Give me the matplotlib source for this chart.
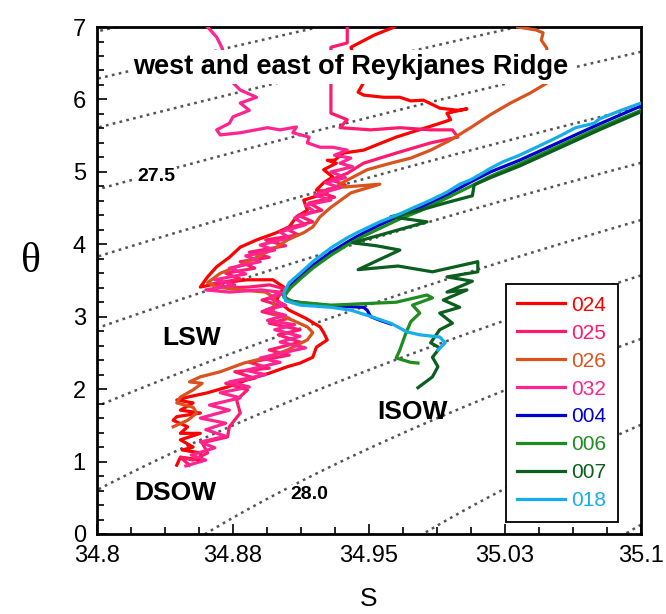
import numpy as np
import matplotlib
matplotlib.use("Agg")
import matplotlib.pyplot as plt
from matplotlib.ticker import MultipleLocator

plt.rcParams['font.family'] = ['Liberation Sans', 'DejaVu Sans']

# salinity / potential temperature profiles
s_024 = [34.964, 34.953, 34.940, 34.947, 34.944, 34.947, 34.958, 34.967, 34.973, 34.980,
         34.989, 34.999, 35.004, 34.993, 34.995, 34.989, 34.965, 34.947, 34.936, 34.931,
         34.927, 34.932, 34.925, 34.930, 34.925, 34.921, 34.927, 34.914, 34.916, 34.910,
         34.906, 34.899, 34.888, 34.879, 34.873, 34.866, 34.861, 34.857, 34.869, 34.883,
         34.897, 34.903, 34.899, 34.906, 34.915, 34.923, 34.925, 34.927, 34.921, 34.919,
         34.912, 34.905, 34.895, 34.883, 34.872, 34.861, 34.850, 34.844, 34.853, 34.846,
         34.857, 34.844, 34.842, 34.850, 34.846, 34.857, 34.846, 34.853, 34.847, 34.857,
         34.858, 34.846, 34.844]
t_024 = [7.00, 6.89, 6.72, 6.23, 6.10, 6.06, 6.03, 6.03, 5.98, 5.99,
         5.88, 5.85, 5.87, 5.81, 5.72, 5.67, 5.48, 5.30, 5.26, 5.16,
         5.16, 5.12, 5.03, 4.93, 4.85, 4.75, 4.71, 4.61, 4.47, 4.38,
         4.24, 4.16, 4.06, 3.96, 3.82, 3.69, 3.55, 3.41, 3.47, 3.51,
         3.51, 3.41, 3.23, 3.09, 2.98, 2.86, 2.78, 2.68, 2.58, 2.44,
         2.36, 2.31, 2.22, 2.13, 2.03, 1.95, 1.89, 1.85, 1.81, 1.71,
         1.67, 1.62, 1.57, 1.48, 1.39, 1.39, 1.30, 1.20, 1.16, 1.12,
         1.02, 1.06, 0.95]

s_025 = [34.938, 34.938, 34.929, 34.929, 34.938, 34.934, 34.951, 34.967, 34.984, 34.996,
         34.999, 34.984, 34.965, 34.947, 34.938, 34.929, 34.937, 34.922, 34.931, 34.917,
         34.924, 34.911, 34.919, 34.904, 34.911, 34.893, 34.904, 34.884, 34.895, 34.879,
         34.887, 34.871, 34.879, 34.863, 34.873, 34.884, 34.895, 34.906, 34.900, 34.891,
         34.900, 34.891, 34.906, 34.895, 34.912, 34.900, 34.912, 34.895, 34.906, 34.884,
         34.895, 34.876, 34.887, 34.871, 34.883, 34.877, 34.879, 34.873, 34.872, 34.858,
         34.861, 34.853, 34.846, 34.851]
t_025 = [7.00, 6.78, 6.72, 5.81, 5.72, 5.61, 5.58, 5.61, 5.58, 5.58,
         5.48, 5.40, 5.26, 5.12, 4.98, 4.89, 4.82, 4.72, 4.65, 4.57,
         4.47, 4.40, 4.31, 4.22, 4.13, 4.06, 3.98, 3.89, 3.82, 3.76,
         3.67, 3.60, 3.52, 3.45, 3.40, 3.41, 3.44, 3.37, 3.29, 3.23,
         3.16, 3.07, 2.98, 2.91, 2.82, 2.75, 2.65, 2.54, 2.47, 2.37,
         2.29, 2.24, 2.15, 2.08, 1.99, 1.85, 1.67, 1.48, 1.34, 1.26,
         1.12, 1.02, 1.06, 0.95]

s_026 = [35.032, 35.042, 35.046, 35.045, 35.048, 35.049, 35.039, 35.028, 35.017, 35.006,
         34.995, 34.984, 34.973, 34.962, 34.949, 34.936, 34.931, 34.956, 34.940, 34.929,
         34.923, 34.919, 34.914, 34.905, 34.899, 34.888, 34.879, 34.868, 34.861, 34.866,
         34.879, 34.893, 34.898, 34.897, 34.908, 34.916, 34.919, 34.916, 34.905, 34.894,
         34.881, 34.868, 34.857, 34.851, 34.858, 34.853, 34.846, 34.844, 34.853, 34.855,
         34.850, 34.842]
t_026 = [7.00, 6.96, 6.92, 6.82, 6.71, 6.24, 6.09, 5.95, 5.79, 5.61,
         5.44, 5.30, 5.19, 5.12, 5.03, 4.86, 4.78, 4.83, 4.71, 4.51,
         4.38, 4.24, 4.16, 4.06, 3.96, 3.82, 3.71, 3.60, 3.47, 3.41,
         3.37, 3.34, 3.26, 3.05, 2.95, 2.86, 2.78, 2.68, 2.54, 2.44,
         2.36, 2.24, 2.17, 2.10, 2.08, 1.99, 1.89, 1.81, 1.75, 1.67,
         1.57, 1.48]

s_032 = [34.861, 34.866, 34.869, 34.875, 34.879, 34.888, 34.879, 34.884, 34.875, 34.873,
         34.866, 34.868, 34.879, 34.894, 34.901, 34.910, 34.908, 34.917, 34.916, 34.923,
         34.930, 34.938, 34.931, 34.940, 34.934, 34.941, 34.929, 34.937, 34.926, 34.934,
         34.920, 34.929, 34.915, 34.920, 34.909, 34.915, 34.901, 34.906, 34.890, 34.898,
         34.882, 34.890, 34.873, 34.882, 34.865, 34.876, 34.860, 34.873, 34.890, 34.901,
         34.895, 34.904, 34.893, 34.904, 34.894, 34.909, 34.898, 34.912, 34.901, 34.915,
         34.904, 34.890, 34.901, 34.882, 34.893, 34.873, 34.884, 34.868, 34.879, 34.862,
         34.873, 34.857, 34.871, 34.860, 34.871, 34.857, 34.865, 34.852, 34.860, 34.849]
t_032 = [7.00, 6.86, 6.71, 6.23, 6.13, 6.03, 5.95, 5.85, 5.76, 5.67,
         5.58, 5.51, 5.54, 5.61, 5.58, 5.62, 5.54, 5.48, 5.40, 5.34,
         5.34, 5.30, 5.23, 5.19, 5.12, 5.07, 5.00, 4.92, 4.85, 4.78,
         4.68, 4.61, 4.54, 4.45, 4.36, 4.27, 4.17, 4.09, 3.99, 3.92,
         3.84, 3.76, 3.67, 3.59, 3.51, 3.44, 3.37, 3.34, 3.37, 3.34,
         3.26, 3.16, 3.09, 3.02, 2.95, 2.89, 2.82, 2.73, 2.65, 2.57,
         2.51, 2.43, 2.37, 2.26, 2.20, 2.10, 2.03, 1.95, 1.88, 1.78,
         1.71, 1.60, 1.53, 1.44, 1.35, 1.27, 1.19, 1.09, 1.02, 0.94]

s_004 = [35.100, 35.077, 35.055, 35.033, 35.017, 35.006, 34.993, 34.978, 34.967, 34.956,
         34.945, 34.938, 34.929, 34.919, 34.912, 34.906, 34.903, 34.906, 34.917, 34.929,
         34.947, 34.949, 34.951, 34.956, 34.962]
t_004 = [5.91, 5.66, 5.41, 5.16, 5.00, 4.86, 4.68, 4.50, 4.39, 4.27,
         4.13, 4.03, 3.89, 3.71, 3.56, 3.41, 3.29, 3.22, 3.18, 3.15,
         3.13, 3.09, 3.00, 2.95, 2.90]

s_006 = [35.100, 35.077, 35.055, 35.033, 35.017, 35.006, 34.993, 34.978, 34.967, 34.956,
         34.945, 34.938, 34.929, 34.919, 34.912, 34.906, 34.903, 34.909, 34.916, 34.929,
         34.947, 34.965, 34.982, 34.985, 34.974, 34.978, 34.973, 34.970, 34.967, 34.965,
         34.973, 34.977]
t_006 = [5.85, 5.61, 5.36, 5.11, 4.94, 4.80, 4.64, 4.46, 4.35, 4.22,
         4.09, 3.99, 3.85, 3.67, 3.52, 3.38, 3.27, 3.20, 3.19, 3.16,
         3.18, 3.20, 3.30, 3.26, 3.16, 3.05, 2.93, 2.75, 2.54, 2.43,
         2.37, 2.36]

s_007 = [35.100, 35.077, 35.055, 35.033, 35.017, 35.008, 35.007, 34.992, 34.978, 34.962,
         34.982, 34.962, 34.941, 34.954, 34.967, 34.955, 34.944, 34.966, 34.985, 35.010,
         35.010, 34.993, 35.007, 34.993, 35.004, 34.991, 35.000, 34.989, 34.996, 34.989,
         34.984, 34.989, 34.985, 34.988, 34.985, 34.977]
t_007 = [5.83, 5.58, 5.33, 5.08, 4.92, 4.82, 4.67, 4.57, 4.47, 4.38,
         4.31, 4.17, 4.02, 3.98, 3.92, 3.78, 3.65, 3.70, 3.62, 3.76,
         3.62, 3.55, 3.49, 3.34, 3.37, 3.23, 3.13, 3.05, 2.91, 2.82,
         2.64, 2.57, 2.44, 2.31, 2.17, 2.02]

s_018 = [35.100, 35.088, 35.077, 35.074, 35.064, 35.054, 35.044, 35.033, 35.024, 35.017,
         35.011, 35.006, 35.000, 34.993, 34.984, 34.974, 34.967, 34.956, 34.945, 34.938,
         34.929, 34.919, 34.912, 34.906, 34.903, 34.904, 34.912, 34.929, 34.940, 34.949,
         34.962, 34.971, 34.978, 34.989, 34.992, 34.988]
t_018 = [5.95, 5.84, 5.73, 5.67, 5.61, 5.48, 5.36, 5.23, 5.14, 5.05,
         4.96, 4.89, 4.83, 4.72, 4.61, 4.50, 4.42, 4.31, 4.18, 4.09,
         3.95, 3.76, 3.60, 3.47, 3.33, 3.22, 3.16, 3.13, 3.09, 3.02,
         2.91, 2.79, 2.75, 2.72, 2.64, 2.54]

stations = ['024', '025', '026', '032', '004', '006', '007', '018']
colors = ['#ff0000', '#ff1a6e', '#d9531e', '#ff2590', '#0000d0', '#1e8c1e', '#0b5e1e', '#16aeea']
profiles = [(s_024, t_024), (s_025, t_025), (s_026, t_026), (s_032, t_032),
            (s_004, t_004), (s_006, t_006), (s_007, t_007), (s_018, t_018)]

# density levels of the dotted isopycnals (as placed in the figure)
sigma_levels = [27.18, 27.27, 27.358, 27.444, 27.545, 27.645, 27.74, 27.83, 27.91, 27.993, 28.09, 28.18]


def sigma0(S, T):
    # UNESCO EOS-80 density at p = 0, minus 1000
    rw = (999.842594 + 6.793952e-2 * T - 9.095290e-3 * T**2 + 1.001685e-4 * T**3
          - 1.120083e-6 * T**4 + 6.536332e-9 * T**5)
    A = 8.24493e-1 - 4.0899e-3 * T + 7.6438e-5 * T**2 - 8.2467e-7 * T**3 + 5.3875e-9 * T**4
    B = -5.72466e-3 + 1.0227e-4 * T - 1.6546e-6 * T**2
    C = 4.8314e-4
    return rw + A * S + B * S**1.5 + C * S**2 - 1000.0


fig = plt.figure(figsize=(6.66, 6.14), dpi=100)
ax = fig.add_axes([0.1456, 0.1303, 0.8169, 0.8257])

sg, tg = np.meshgrid(np.linspace(34.8, 35.1, 300), np.linspace(0, 7, 300))
ax.contour(sg, tg, sigma0(sg, tg), levels=sigma_levels, colors='#555555',
           linewidths=1.8, linestyles=[(0, (1.1, 1.7))], zorder=1)

for (s, t), c, name in zip(profiles, colors, stations):
    ax.plot(s, t, color=c, lw=2.3, label=name, zorder=3)

txt = dict(fontsize=19, fontweight='bold', zorder=5, ha='center', va='center')
ax.text(0.467, 0.921, 'west and east of Reykjanes Ridge', transform=ax.transAxes,
        ha='center', va='center', fontsize=19.5, fontweight='bold', zorder=6,
        bbox=dict(facecolor='white', edgecolor='none', pad=3))
ax.text(34.833, 4.93, '27.5', ha='center', va='center', fontsize=14, fontweight='bold',
        zorder=5, bbox=dict(facecolor='white', edgecolor='none', pad=1))
ax.text(34.917, 0.54, '28.0', ha='center', va='center', fontsize=14, fontweight='bold',
        zorder=5, bbox=dict(facecolor='white', edgecolor='none', pad=1))
ax.text(34.852, 2.71, 'LSW', **txt)
ax.text(34.974, 1.68, 'ISOW', **txt)
ax.text(34.843, 0.57, 'DSOW', **txt)

ax.set_xlim(34.8, 35.1)
ax.set_ylim(0, 7)
ax.set_xticks([34.8, 34.875, 34.95, 35.025, 35.1])
ax.set_xticklabels(['34.8', '34.88', '34.95', '35.03', '35.1'])
ax.set_yticks(range(8))
ax.xaxis.set_minor_locator(MultipleLocator(0.01875))
ax.yaxis.set_minor_locator(MultipleLocator(0.2))
ax.tick_params(which='both', direction='in', top=False, right=False, width=1.2,
               labelsize=17, pad=8)
ax.tick_params(which='major', length=7)
ax.tick_params(which='minor', length=5)
for sp in ax.spines.values():
    sp.set_linewidth(2)

ax.set_xlabel('S', fontsize=19, labelpad=14)
ax.set_ylabel('θ', fontsize=30, rotation=0, family='Liberation Serif', labelpad=30)

leg = ax.legend(loc='lower right', bbox_to_anchor=(0.958, 0.024), borderaxespad=0,
                fontsize=15, labelcolor='linecolor', fancybox=False, edgecolor='black',
                handlelength=2.3, handletextpad=0.3, labelspacing=0.43,
                borderpad=0.55, framealpha=1)
leg.get_frame().set_linewidth(1.3)
leg.set_zorder(7)

fig.savefig('out.png', dpi=100)
